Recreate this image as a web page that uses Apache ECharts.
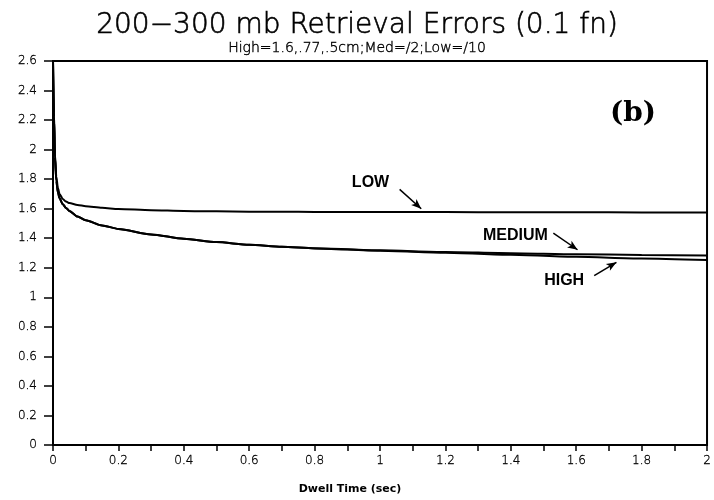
<!DOCTYPE html>
<html>
<head>
<meta charset="utf-8">
<script src="https://cdn.jsdelivr.net/npm/echarts@6/dist/echarts.min.js"></script>
<style>
  html, body { margin: 0; padding: 0; background: #fff; }
  #chart { width: 714px; height: 500px; }
</style>
</head>
<body>
<div id="chart"></div>
<script>
// Dwell time (sec) sample points
const dwellTime = [0, 0.003, 0.006, 0.01, 0.015, 0.02, 0.03, 0.04, 0.05, 0.075, 0.1, 0.15, 0.2, 0.3, 0.4, 0.5, 0.6, 0.7, 0.8, 1.0, 1.2, 1.4, 1.6, 1.8, 2.0];
// Retrieval error for each noise level
const lowNoise    = [2.6, 2.25, 1.97, 1.82, 1.74, 1.70, 1.665, 1.648, 1.638, 1.625, 1.617, 1.606, 1.598, 1.59, 1.585, 1.582, 1.58, 1.579, 1.578, 1.577, 1.577, 1.576, 1.576, 1.575, 1.575];
const mediumNoise = [2.6, 2.22, 1.95, 1.79, 1.71, 1.67, 1.63, 1.605, 1.585, 1.547, 1.522, 1.487, 1.463, 1.426, 1.396, 1.374, 1.356, 1.342, 1.332, 1.318, 1.307, 1.299, 1.292, 1.287, 1.283];
const highNoise   = [2.6, 2.22, 1.95, 1.79, 1.71, 1.67, 1.63, 1.605, 1.585, 1.547, 1.522, 1.487, 1.463, 1.426, 1.396, 1.374, 1.356, 1.342, 1.331, 1.315, 1.302, 1.288, 1.274, 1.263, 1.252];

// Curve annotations: label text, label anchor, arrow tail, arrow head (data units)
const curveLabels = ['LOW', 'MEDIUM', 'HIGH'];
const labelAnchors = [[0.971, 1.778], [1.414, 1.421], [1.563, 1.111]];
const arrowTails = [[1.06, 1.731], [1.53, 1.434], [1.655, 1.147]];
const arrowHeads = [[1.126, 1.60], [1.604, 1.322], [1.723, 1.237]];

const pair = (xs, ys) => xs.map((x, i) => [x, ys[i]]);

const chart = echarts.init(document.getElementById('chart'));
const ink = '#000';
const lineStyle = { color: ink, width: 2 };
const curve = { type: 'line', showSymbol: false, smooth: 0.25, smoothMonotone: 'x', lineStyle, clip: true };
const tickFont = { fontFamily: 'DejaVu Sans', fontWeight: 300, fontSize: 12, color: ink,
  textBorderColor: ink, textBorderWidth: 0.3 };

chart.setOption({
  animation: false,
  backgroundColor: '#fff',
  title: {
    text: '200\u2212300 mb Retrieval Errors (0.1 fn)',
    subtext: 'High=1.6,.77,.5cm;Med=/2;Low=/10',
    left: 'center',
    top: 7,
    itemGap: 1,
    textStyle: { fontFamily: 'DejaVu Sans', fontWeight: 300, fontSize: 28, color: ink,
      textBorderColor: ink, textBorderWidth: 0.6 },
    subtextStyle: { fontFamily: 'DejaVu Sans', fontWeight: 300, fontSize: 14, color: ink,
      textBorderColor: ink, textBorderWidth: 0.4 }
  },
  grid: {
    left: 53, right: 6, top: 61, bottom: 53,
    show: true, borderColor: ink, borderWidth: 2, backgroundColor: 'transparent'
  },
  xAxis: {
    type: 'value', min: 0, max: 2, interval: 0.2,
    name: 'Dwell Time (sec)', nameLocation: 'middle', nameGap: 39,
    nameTextStyle: { fontFamily: 'DejaVu Sans', fontWeight: 'bold', fontSize: 11, color: ink, padding: [0, 60, 0, 0] },
    axisLine: { lineStyle: { color: ink, width: 2 } },
    axisTick: { length: 6, lineStyle: { color: ink, width: 1.5 } },
    minorTick: { show: true, splitNumber: 2, length: 6, lineStyle: { color: ink, width: 1.5 } },
    splitLine: { show: false },
    axisLabel: Object.assign({ margin: 10 }, tickFont)
  },
  yAxis: {
    type: 'value', min: 0, max: 2.6, interval: 0.2,
    axisLine: { show: true, lineStyle: { color: ink, width: 2 } },
    axisTick: { show: true, length: 9, lineStyle: { color: ink, width: 1.5 } },
    splitLine: { show: false },
    axisLabel: Object.assign({ margin: 16 }, tickFont)
  },
  graphic: [{
    type: 'text', left: 610, top: 100,
    style: { text: '(b)', font: 'bold 28px "DejaVu Serif", serif', fill: ink }
  }],
  series: [
    Object.assign({ name: 'Low', data: pair(dwellTime, lowNoise) }, curve),
    Object.assign({ name: 'Medium', data: pair(dwellTime, mediumNoise) }, curve),
    Object.assign({ name: 'High', data: pair(dwellTime, highNoise),
      markLine: {
        silent: true,
        symbol: ['none', 'arrow'],
        symbolSize: [6, 10],
        label: { show: false },
        lineStyle: { color: ink, width: 1.5, type: 'solid' },
        data: arrowTails.map((t, i) => [{ coord: t }, { coord: arrowHeads[i] }])
      }
    }, curve),
    {
      name: 'Labels', type: 'scatter', silent: true,
      symbolSize: 0, itemStyle: { color: ink, opacity: 1 },
      data: labelAnchors.map((a, i) => ({ value: a, name: curveLabels[i] })),
      label: {
        show: true, position: 'inside', formatter: p => p.name,
        fontFamily: 'Liberation Sans', fontWeight: 'bold', fontSize: 16,
        color: ink, opacity: 1, textBorderWidth: 0
      }
    }
  ]
});
</script>
</body>
</html>
